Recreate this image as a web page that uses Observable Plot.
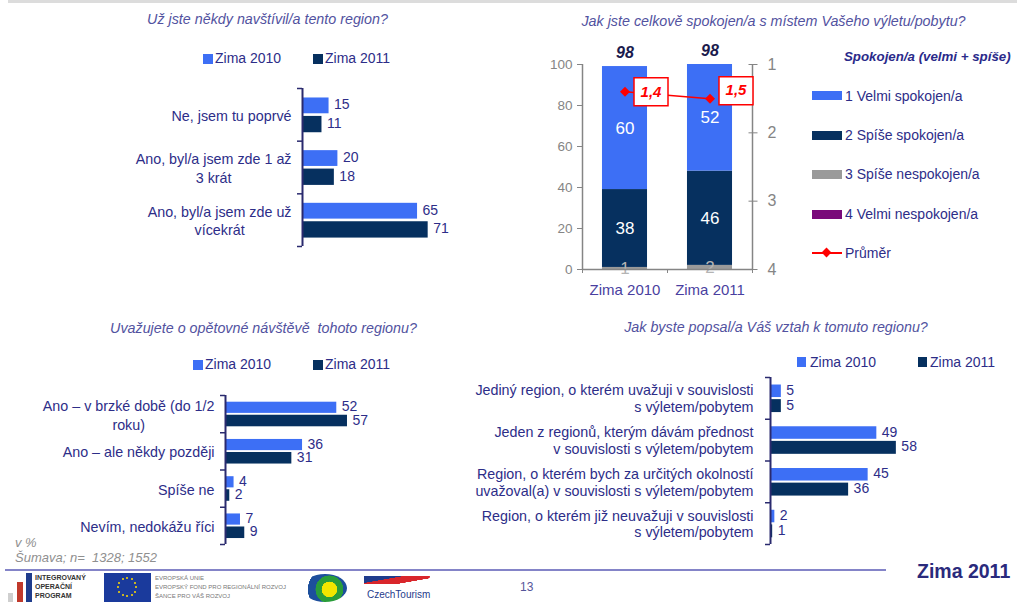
<!DOCTYPE html>
<html lang="cs">
<head>
<meta charset="utf-8">
<script src="https://cdn.jsdelivr.net/npm/d3@7"></script>
<script src="https://cdn.jsdelivr.net/npm/@observablehq/plot@0.6"></script>
<style>
html,body{margin:0;padding:0;background:#fff;}
#page{position:relative;width:1017px;height:602px;overflow:hidden;font-family:"Liberation Sans",Arial,sans-serif;background:#fff;}
.a{position:absolute;white-space:pre;}
.title{font-style:italic;font-size:14.3px;color:#5252a0;transform:translate(-50%,-50%);line-height:16px;}
.leg{font-size:14px;color:#2d2d88;line-height:16px;}
.foot{font-size:13px;color:#8f8f8f;font-style:italic;line-height:16px;}
.logo{font-weight:bold;color:#333;}
</style>
</head>
<body>
<div id="page"></div>
<script>
// ---------------- DATA ----------------
const series = ["Zima 2010", "Zima 2011"];

// Panel 1: Už jste někdy navštívil/a tento region?
const visitCats = ["Ne, jsem tu poprvé", "Ano, byl/a jsem zde 1 až\n3 krát", "Ano, byl/a jsem zde už\nvícekrát"];
const visit2010 = [15, 20, 65];
const visit2011 = [11, 18, 71];

// Panel 2: Jak jste celkově spokojen/a ...
const satYears = ["Zima 2010", "Zima 2011"];
const satLevels = ["1 Velmi spokojen/a", "2 Spíše spokojen/a", "3 Spíše nespokojen/a", "4 Velmi nespokojen/a"];
const satVelmi = [60, 52];
const satSpise = [38, 46];
const satSpiseNe = [1, 2];
const satVelmiNe = [0, 0];
const satTotal = [98, 98];
const satMean = [1.4, 1.5];
const satMeanTicks = [1, 2, 3, 4];
const satPctTicks = [0, 20, 40, 60, 80, 100];
const satHeader = "Spokojen/a (velmi + spíše)";
const meanLabel = "Průměr";

// Panel 3: Uvažujete o opětovné návštěvě tohoto regionu?
const returnCats = ["Ano – v brzké době (do 1/2\nroku)", "Ano – ale někdy později", "Spíše ne", "Nevím, nedokážu říci"];
const return2010 = [52, 36, 4, 7];
const return2011 = [57, 31, 2, 9];

// Panel 4: Jak byste popsal/a Váš vztah k tomuto regionu?
const relCats = [
  "Jediný region, o kterém uvažuji v souvislosti\ns výletem/pobytem",
  "Jeden z regionů, kterým dávám přednost\nv souvislosti s výletem/pobytem",
  "Region, o kterém bych za určitých okolností\nuvažoval(a) v souvislosti s výletem/pobytem",
  "Region, o kterém již neuvažuji v souvislosti\ns výletem/pobytem"
];
const rel2010 = [5, 49, 45, 2];
const rel2011 = [5, 58, 36, 1];

// ---------------- STYLE ----------------
const BLUE = "#3d6ff5", DARK = "#06305f", GREY = "#9a9a9a", PURPLE = "#7a0a7a", RED = "#ff0000";
const LABEL = "#2d2d88", AXIS = "#2a2a6e", TICKGREY = "#858585";
const FONT = '"Liberation Sans", Arial, sans-serif';
const meanBoxDy = [0, -8];

const page = document.getElementById("page");
function add(cls, css, text) {
  const el = document.createElement("div");
  el.className = cls;
  Object.assign(el.style, css);
  if (text != null) el.textContent = text;
  page.appendChild(el);
  return el;
}
function title(text, cx, cy) { add("a title", {left: cx + "px", top: cy + "px"}, text); }
function legendItem(color, sx, sy, sw, sh, text, tx, cy) {
  add("a", {left: sx + "px", top: sy + "px", width: sw + "px", height: sh + "px", background: color});
  add("a leg", {left: tx + "px", top: (cy - 8) + "px"}, text);
}
function mount(svg, left, top) {
  const wrap = add("a", {left: left + "px", top: top + "px"});
  wrap.appendChild(svg);
  return svg;
}
function centerLines(svg) {
  svg.querySelectorAll("text").forEach(t => {
    const spans = t.querySelectorAll("tspan");
    if (spans.length < 2) return;
    const w = Math.max(...Array.from(spans, s => s.getComputedTextLength()));
    t.setAttribute("text-anchor", "middle");
    spans.forEach(s => s.setAttribute("x", -w / 2));
  });
}

// ---------------- HORIZONTAL GROUPED BARS ----------------
function hbar(cats, v2010, v2011, o) {
  const rows = cats.flatMap((c, i) => [
    {i, s: series[0], v: v2010[i]},
    {i, s: series[1], v: v2011[i]}
  ]);
  const slot = {[series[0]]: [0.18, 0.48], [series[1]]: [0.53, 0.84]};
  const n = cats.length;
  return Plot.plot({
    width: o.width, height: o.height,
    marginLeft: o.ml, marginRight: o.mr, marginTop: o.mt, marginBottom: o.mb,
    style: {fontFamily: FONT, background: "none", overflow: "visible", maxWidth: "none"},
    x: {domain: [0, 100], axis: null},
    y: {domain: [n, 0]},
    color: {domain: series, range: [BLUE, DARK]},
    marks: [
      Plot.rectX(rows, {x1: 0, x2: "v", y1: d => d.i + slot[d.s][0], y2: d => d.i + slot[d.s][1], fill: "s"}),
      Plot.ruleX([0], {stroke: AXIS, strokeWidth: 2}),
      Plot.axisY({ticks: d3.range(n + 1), tickSize: 5, tickFormat: () => "", stroke: AXIS, strokeWidth: 1.5, label: null}),
      Plot.text(rows, {x: "v", y: d => d.i + (slot[d.s][0] + slot[d.s][1]) / 2, text: d => String(d.v),
        textAnchor: "start", dx: 5, dy: -1, fill: LABEL, fontSize: 14}),
      Plot.text(cats, {x: 0, y: (d, i) => i + 0.5, text: d => d, textAnchor: "end", dx: -o.gap,
        fill: LABEL, fontSize: 14.3, lineHeight: o.lh})
    ]
  });
}

// Panel 1
title("Už jste někdy navštívil/a tento region?", 267.5, 19);
legendItem(BLUE, 203, 54, 10, 10, series[0], 215, 58);
legendItem(DARK, 313, 54, 10, 10, series[1], 325, 58);
const p1 = mount(hbar(visitCats, visit2010, visit2011, {width: 520, height: 180, ml: 302, mr: 41, mt: 8, mb: 14, gap: 11, lh: 1.3}), 0, 80);
centerLines(p1);

// Panel 3
title("Uvažujete o opětovné návštěvě  tohoto regionu?", 263.5, 328);
legendItem(BLUE, 193, 360, 10, 10, series[0], 205, 364);
legendItem(DARK, 313, 360, 10, 10, series[1], 325, 364);
const p3 = mount(hbar(returnCats, return2010, return2011, {width: 520, height: 170, ml: 225, mr: 81, mt: 10, mb: 11, gap: 11, lh: 1.32}), 0, 385);
centerLines(p3);

// Panel 4
title("Jak byste popsal/a Váš vztah k tomuto regionu?", 776, 327);
legendItem(BLUE, 797, 357, 9, 10, series[0], 810, 362);
legendItem(DARK, 918, 357, 9, 10, series[1], 930, 362);
mount(hbar(relCats, rel2010, rel2011, {width: 577, height: 190, ml: 330, mr: 30, mt: 10, mb: 13, gap: 17, lh: 1.17}), 440, 367);

// ---------------- PANEL 2: STACKED + MEAN ----------------
title("Jak jste celkově spokojen/a s místem Vašeho výletu/pobytu?", 773.5, 20.5);
const levelColors = [BLUE, DARK, GREY, PURPLE];
const levelValues = [satVelmi, satSpise, satSpiseNe, satVelmiNe];
const satRows = [];
satYears.forEach((yr, i) => {
  let base = 0;
  [3, 2, 1, 0].forEach(k => {
    const v = levelValues[k][i];
    satRows.push({i, k, level: satLevels[k], v, y1: base, y2: base + v});
    base += v;
  });
});
const tops = satYears.map((yr, i) => d3.sum(levelValues, vals => vals[i]));
const nYears = satYears.length;
const meanToY = m => (4 - m) / 3 * 100;
const yToMean = y => 4 - y * 3 / 100;
const boxSymbol = {draw(ctx) { ctx.rect(-17, -14, 34, 28); }};
const bw = [0.235, 0.765];
const meanRows = satMean.map((m, i) => ({i, m}));

const p2 = Plot.plot({
  width: 300, height: 275, marginLeft: 62, marginRight: 68, marginTop: 24, marginBottom: 46,
  style: {fontFamily: FONT, background: "none", overflow: "visible", maxWidth: "none"},
  x: {domain: [0, nYears]},
  y: {domain: [0, 100]},
  color: {domain: satLevels, range: levelColors},
  marks: [
    Plot.rectY(satRows, {x1: d => d.i + bw[0], x2: d => d.i + bw[1], y1: "y1", y2: "y2", fill: "level"}),
    Plot.text(satRows.filter(d => d.v > 0 && d.k < 2), {x: d => d.i + 0.5, y: d => (d.y1 + d.y2) / 2,
      text: d => String(d.v), fill: "#ffffff", fontSize: 17}),
    Plot.text(satRows.filter(d => d.v > 0 && d.k >= 2), {x: d => d.i + 0.5, y: d => (d.y1 + d.y2) / 2,
      text: d => String(d.v), fill: "#b4b4b4", fontSize: 17}),
    Plot.ruleX([0], {stroke: TICKGREY, strokeWidth: 1.5}),
    Plot.ruleX([nYears], {stroke: TICKGREY, strokeWidth: 1.5}),
    Plot.ruleY([0], {stroke: TICKGREY, strokeWidth: 1.5}),
    Plot.axisY({anchor: "left", ticks: satPctTicks, tickSize: 5, tickPadding: 5, color: TICKGREY, fontSize: 13.5, label: null}),
    Plot.axisY({anchor: "right", ticks: satMeanTicks.map(meanToY), tickSize: 9, dx: -4.5, tickFormat: () => "", color: TICKGREY, label: null}),
    Plot.axisY({anchor: "right", ticks: satMeanTicks.map(meanToY), tickSize: 0, tickPadding: 15,
      tickFormat: y => String(Math.round(yToMean(y))), color: TICKGREY, fontSize: 16, label: null}),
    Plot.axisX({ticks: d3.range(nYears + 1), tickSize: 4, tickFormat: () => "", color: TICKGREY, label: null}),
    Plot.text(satYears, {x: (d, i) => i + 0.5, y: 0, dy: 21, text: d => d, fill: "#4a3fa0", fontSize: 15}),
    Plot.text(satYears, {x: (d, i) => i + 0.5, y: (d, i) => tops[i], dy: -14, text: (d, i) => String(satTotal[i]),
      fill: "#1b1b4d", fontSize: 16, fontWeight: "bold", fontStyle: "italic"}),
    Plot.line(meanRows, {x: d => d.i + 0.5, y: d => meanToY(d.m), stroke: RED, strokeWidth: 1.5}),
    Plot.dot(meanRows, {x: d => d.i + 0.5, y: d => meanToY(d.m), symbol: "diamond2", r: 4.5, fill: RED}),
    ...meanRows.flatMap(row => [
      Plot.dot([row], {x: d => d.i + 0.5, y: d => meanToY(d.m), symbol: boxSymbol, r: 5, fill: "#ffffff",
        stroke: RED, strokeWidth: 1.5, dx: 26, dy: meanBoxDy[row.i]}),
      Plot.text([row], {x: d => d.i + 0.5, y: d => meanToY(d.m), text: d => String(d.m).replace(".", ","),
        fill: RED, fontSize: 15, fontWeight: "bold", fontStyle: "italic", dx: 26, dy: meanBoxDy[row.i]})
    ])
  ]
});
mount(p2, 520, 40);

// Panel 2 legend
add("a", {left: "844px", top: "49px", fontSize: "13.3px", fontWeight: "bold", fontStyle: "italic", color: "#2a2a8a", lineHeight: "16px"}, satHeader);
const legRows = [95.7, 135, 174, 214.3];
satLevels.forEach((lv, k) => legendItem(levelColors[k], 812, legRows[k] - 4.5, 30, 9, lv, 845, legRows[k]));
add("a", {left: "812px", top: "252.3px", width: "30px", height: "2px", background: RED});
add("a", {left: "823px", top: "249.3px", width: "7px", height: "7px", background: RED, transform: "rotate(45deg)"});
add("a leg", {left: "845px", top: (253.3 - 8) + "px"}, meanLabel);

// ---------------- FOOTER ----------------
add("a", {left: "8px", top: "0px", width: "1009px", height: "3px", background: "#dcdcdc"});
add("a foot", {left: "15px", top: "535px"}, "v %");
add("a foot", {left: "15px", top: "550px"}, "Šumava; n=  1328; 1552");
add("a", {left: "5px", top: "569px", width: "881px", height: "2px", background: "#8484c8"});
add("a", {left: "520px", top: "580px", fontSize: "12px", color: "#55559a", lineHeight: "14px"}, "13");
add("a", {left: "917px", top: "560px", fontSize: "19.5px", fontWeight: "bold", color: "#2a2a7c", lineHeight: "22px"}, "Zima 2011");

// logos (decorative)
add("a", {left: "8px", top: "593px", width: "5px", height: "9px", background: "#cfcfcf"});
add("a", {left: "17px", top: "582px", width: "6px", height: "20px", background: "#c0392b"});
add("a", {left: "26px", top: "573px", width: "6px", height: "29px", background: "#1f3c8c"});
add("a logo", {left: "35px", top: "573px", fontSize: "7px", lineHeight: "9px"}, "INTEGROVANÝ\nOPERAČNÍ\nPROGRAM");
add("a", {left: "104px", top: "573px", width: "47px", height: "29px", background: "#1a3a9c"});
for (let s = 0; s < 12; s++) {
  const ang = s / 12 * 2 * Math.PI;
  add("a", {left: (127 + 9 * Math.cos(ang) - 1) + "px", top: (587 + 9 * Math.sin(ang) - 1) + "px", width: "2px", height: "2px", background: "#ffdd00", borderRadius: "50%"});
}
add("a", {left: "155px", top: "574px", fontSize: "6px", lineHeight: "9px", color: "#777"}, "EVROPSKÁ UNIE\nEVROPSKÝ FOND PRO REGIONÁLNÍ ROZVOJ\nŠANCE PRO VÁŠ ROZVOJ");
add("a", {left: "303px", top: "574px", width: "44px", height: "28px", borderRadius: "50%", background: "radial-gradient(circle at 60% 55%, #f2e600 0 25%, #2a9d3a 26% 45%, #1d4f9c 46% 70%, #ffffff 71%)"});
add("a", {left: "364px", top: "576px", width: "66px", height: "8px", background: "linear-gradient(170deg, #1f3c8c 0 35%, #d9262b 36% 70%, transparent 71%)", borderRadius: "0 0 40px 0"});
add("a", {left: "367px", top: "589px", fontSize: "10px", color: "#1f3c8c", lineHeight: "12px"}, "CzechTourism");
</script>
</body>
</html>
